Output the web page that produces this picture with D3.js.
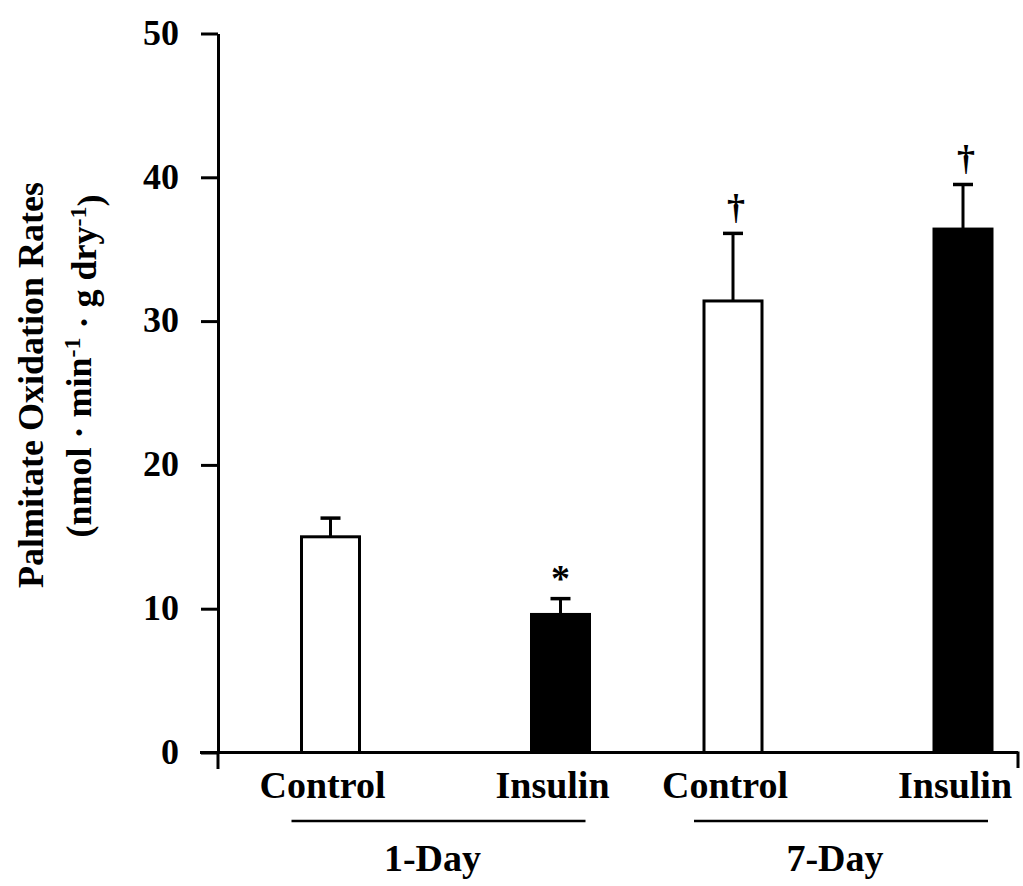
<!DOCTYPE html>
<html>
<head>
<meta charset="utf-8">
<script src="https://cdn.jsdelivr.net/npm/d3@7"></script>
<style>
  body { margin: 0; background: #fff; }
  svg text { font-family: "Liberation Serif", "Times New Roman", serif; font-weight: bold; fill: #000; }
</style>
</head>
<body>
<svg width="1023" height="886"></svg>
<script>
var svg = d3.select("svg");

// data
var groups = ["1-Day", "7-Day"];
var treatments = ["Control", "Insulin"];
var means = [15.0, 9.6, 31.4, 36.4];     // 1-Day Control, 1-Day Insulin, 7-Day Control, 7-Day Insulin
var errTops = [16.3, 10.7, 36.1, 39.5];  // mean + SE
var marks = ["", "*", "\u2020", "\u2020"];
var yTicks = [0, 10, 20, 30, 40, 50];

var bars = [];
groups.forEach(function(g, gi) {
  treatments.forEach(function(t, ti) {
    var i = gi * 2 + ti;
    bars.push({ group: g, treat: t, value: means[i], top: errTops[i], mark: marks[i] });
  });
});

var y = d3.scaleLinear().domain([0, 50]).range([752.5, 33.5]);
var groupX = d3.scalePoint().domain(groups).range([445.5, 848]);
var innerX = d3.scalePoint().domain(treatments).range([-115, 115]);
var barW = 58;

function cx(d) { return groupX(d.group) + innerX(d.treat); }

// y axis
var yAxis = d3.axisLeft(y).tickValues(yTicks).tickSize(17).tickPadding(22).tickSizeOuter(0);
var ya = svg.append("g").attr("transform", "translate(218,0)").call(yAxis);
ya.select(".domain").attr("stroke-width", 3);
ya.selectAll(".tick line").attr("stroke-width", 3);
ya.selectAll(".tick text").style("font-size", "36px").attr("dy", "0.3em");

// x baseline with end ticks
svg.append("line").attr("x1", 200).attr("x2", 1018).attr("y1", y(0)).attr("y2", y(0))
  .attr("stroke", "#000").attr("stroke-width", 3);
svg.append("line").attr("x1", 218).attr("x2", 218).attr("y1", y(0)).attr("y2", 769)
  .attr("stroke", "#000").attr("stroke-width", 3);
svg.append("line").attr("x1", 1018).attr("x2", 1018).attr("y1", y(0) - 1).attr("y2", 768)
  .attr("stroke", "#000").attr("stroke-width", 3);

// error bars (upper only)
var eb = svg.append("g").selectAll("g").data(bars).enter().append("g");
eb.append("line")
  .attr("x1", cx).attr("x2", cx)
  .attr("y1", function(d) { return y(d.value); })
  .attr("y2", function(d) { return y(d.top); })
  .attr("stroke", "#000").attr("stroke-width", 3);
eb.append("line")
  .attr("x1", function(d) { return cx(d) - 10; })
  .attr("x2", function(d) { return cx(d) + 10; })
  .attr("y1", function(d) { return y(d.top); })
  .attr("y2", function(d) { return y(d.top); })
  .attr("stroke", "#000").attr("stroke-width", 3.5);

// bars
svg.append("g").selectAll("rect").data(bars).enter().append("rect")
  .attr("x", function(d) { return cx(d) - barW / 2; })
  .attr("width", barW)
  .attr("y", function(d) { return y(d.value); })
  .attr("height", function(d) { return y(0) - y(d.value); })
  .attr("fill", function(d) { return d.treat == "Insulin" ? "#000" : "#fff"; })
  .attr("stroke", "#000").attr("stroke-width", 3);

// significance marks
svg.append("g").selectAll("text").data(bars.filter(function(d) { return d.mark; })).enter().append("text")
  .attr("x", function(d) { return cx(d) + (d.mark == "*" ? 0 : 3); })
  .attr("y", function(d) { return d.mark == "*" ? y(d.top) - 8 : y(d.top) - 14; })
  .attr("text-anchor", "middle")
  .style("font-size", function(d) { return d.mark == "*" ? "38px" : "36px"; })
  .text(function(d) { return d.mark; });

// category labels
svg.append("g").selectAll("text").data(bars).enter().append("text")
  .attr("x", function(d) { return cx(d) - 8; })
  .attr("y", 798)
  .attr("text-anchor", "middle")
  .style("font-size", "38px")
  .text(function(d) { return d.treat; });

// group underlines and labels
var gl = svg.append("g").selectAll("g").data(groups).enter().append("g");
gl.append("line")
  .attr("x1", function(d) { return groupX(d) - 154; })
  .attr("x2", function(d) { return groupX(d) + 140; })
  .attr("y1", 821).attr("y2", 821)
  .attr("stroke", "#000").attr("stroke-width", 2.5);
gl.append("text")
  .attr("x", function(d) { return groupX(d) - 13; })
  .attr("y", 871)
  .attr("text-anchor", "middle")
  .style("font-size", "38px")
  .text(function(d) { return d; });

// y title
svg.append("text").attr("transform", "translate(43,385) rotate(-90)")
  .attr("text-anchor", "middle").style("font-size", "36px")
  .text("Palmitate Oxidation Rates");
var t2 = svg.append("text").attr("transform", "translate(91,366) rotate(-90)")
  .attr("text-anchor", "middle").style("font-size", "36px");
t2.append("tspan").text("(nmol \u00b7 min");
t2.append("tspan").attr("dy", "-0.45em").style("font-size", "24px").text("-1");
t2.append("tspan").attr("dy", "0.45em").text(" \u00b7 g dry");
t2.append("tspan").attr("dy", "-0.45em").style("font-size", "24px").text("-1");
t2.append("tspan").attr("dy", "0.45em").text(")");
</script>
</body>
</html>
